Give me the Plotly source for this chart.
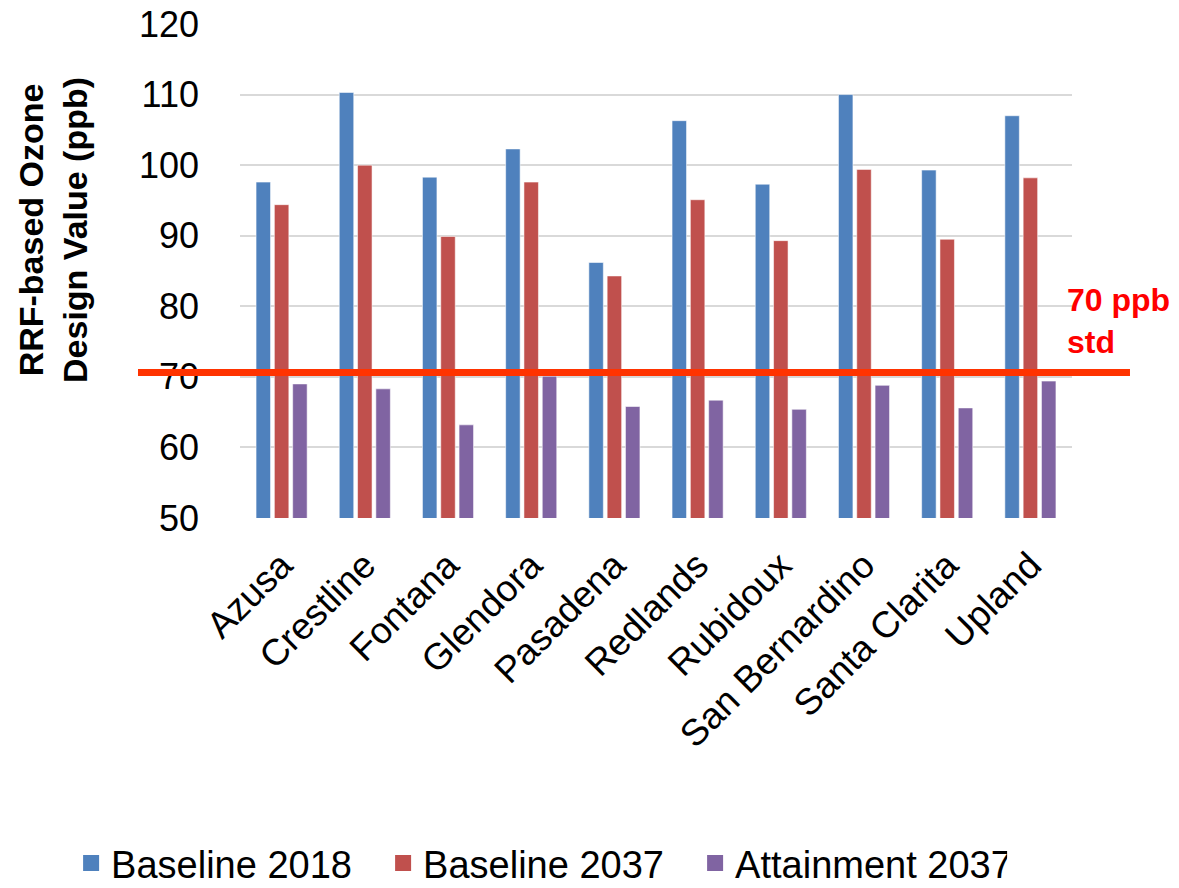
import plotly.graph_objects as go

sites = ["Azusa", "Crestline", "Fontana", "Glendora", "Pasadena", "Redlands",
         "Rubidoux", "San Bernardino", "Santa Clarita", "Upland"]
baseline_2018 = [97.6, 110.3, 98.3, 102.3, 86.2, 106.3, 97.3, 110.0, 99.3, 107.0]
baseline_2037 = [94.4, 100.0, 89.9, 97.6, 84.3, 95.1, 89.3, 99.4, 89.5, 98.2]
attainment_2037 = [69.0, 68.3, 63.2, 70.1, 65.8, 66.7, 65.4, 68.8, 65.6, 69.4]
series_names = ["Baseline 2018", "Baseline 2037", "Attainment 2037"]
series_colors = ["#4F81BD", "#C0504D", "#8064A2"]
standard_value = 70.6
standard_label = "70 ppb<br>std"
y_ticks = [50, 60, 70, 80, 90, 100, 110, 120]

FONT = "Liberation Sans, Arial, sans-serif"

fig = go.Figure()
for name, vals, col in zip(series_names, [baseline_2018, baseline_2037, attainment_2037], series_colors):
    fig.add_trace(go.Bar(
        x=sites, y=vals, name=name, showlegend=False,
        marker=dict(color=col, line=dict(color="rgba(255,255,255,0.55)", width=1)),
    ))
# legend entries (larger square symbols)
for name, col in zip(series_names, series_colors):
    fig.add_trace(go.Scatter(
        x=[None], y=[None], mode="markers", name=name,
        marker=dict(symbol="square", size=24, color=col),
    ))

fig.add_shape(type="line", xref="paper", yref="y",
              x0=-0.1226, x1=1.0697, y0=standard_value, y1=standard_value,
              line=dict(color="#FF3300", width=7), layer="above")

fig.add_annotation(text=standard_label, xref="paper", yref="paper",
                   x=0.9916, y=0.398, xanchor="left", yanchor="middle", align="left",
                   showarrow=False, font=dict(family=FONT, size=32, color="#FF0000", weight="bold"))

fig.add_annotation(text="RRF-based Ozone<br>Design Value (ppb)", xref="paper", yref="paper",
                   x=-0.2248, y=0.583, xanchor="center", yanchor="middle", textangle=-90,
                   showarrow=False, font=dict(family=FONT, size=34, color="#000000", weight="bold"))

fig.update_layout(
    width=1179, height=888,
    margin=dict(l=240, r=107, t=24, b=369.5, autoexpand=False),
    paper_bgcolor="white", plot_bgcolor="white",
    barmode="group", bargap=0.34, bargroupgap=0.208,
    font=dict(family=FONT, size=36, color="#000000"),
    legend=dict(orientation="h", xref="paper", yref="paper",
                x=-0.203, y=-0.699, xanchor="left", yanchor="middle",
                font=dict(family=FONT, size=38, color="#000000"),
                entrywidth=267, entrywidthmode="pixels",
                itemsizing="trace", bgcolor="rgba(0,0,0,0)"),
)
fig.update_xaxes(showgrid=False, showline=False, tickangle=-45, ticklabelstandoff=17,
                 tickfont=dict(family=FONT, size=37, color="#000000"), ticks="")
fig.update_yaxes(range=[50, 120], tickvals=y_ticks, showgrid=True, gridcolor="#D9D9D9", gridwidth=1.5,
                 zeroline=False, showline=False, ticks="", ticklabelstandoff=40,
                 tickfont=dict(family=FONT, size=36, color="#000000"))

fig.write_html("out.html")
